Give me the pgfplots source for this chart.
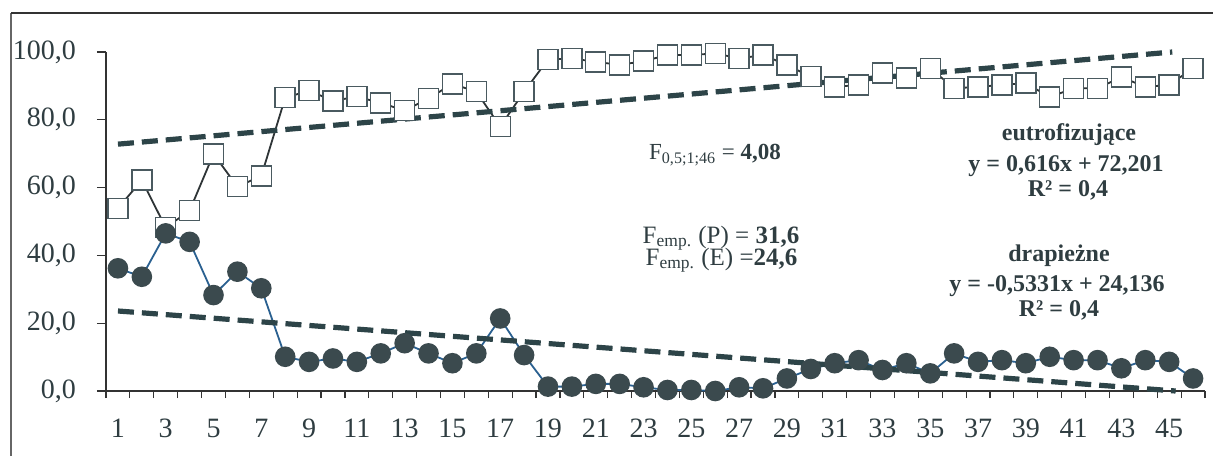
\documentclass[border=0pt]{standalone}
\usepackage{fontspec}
\setmainfont{Liberation Serif}
\usepackage{pgfplots}
\pgfplotsset{compat=1.18}
\definecolor{sqedge}{HTML}{4A5A60}
\definecolor{sqline}{HTML}{2E3436}
\definecolor{circfill}{HTML}{3B4A4E}
\definecolor{circline}{HTML}{2A6090}
\definecolor{trend}{HTML}{2D4448}
\definecolor{txt}{HTML}{2F3D41}
\begin{document}
\begin{tikzpicture}[x=1pt,y=1pt]
\useasboundingbox (0,0) rectangle (606.5,228);
% outer frame (partly visible)
\draw[color=gray!80!black, line width=1.1pt] (5.5,0) -- (5.5,221.5);
\draw[color=black!80, line width=0.6pt] (5.5,221.5) -- (606.5,221.5);
\begin{axis}[
  at={(53pt,32.5pt)}, anchor=south west,
  scale only axis, width=549.5pt, height=169.5pt,
  xmin=0.5, xmax=46.5, ymin=0, ymax=100,
  clip=false,
  axis x line*=bottom, axis y line*=left,
  axis line style={color=black!80, line width=0.7pt},
  xtick={1,3,...,45},
  minor xtick={0.5,1.5,...,46.5},
  major x tick style={draw=none},
  minor tick length=3.5pt,
  major tick length=4.5pt,
  tick align=outside,
  tick style={color=black!80, line width=0.6pt},
  ytick={0,20,...,100},
  /pgf/number format/assume math mode=true,
  yticklabel style={/pgf/number format/.cd, fixed, fixed zerofill, precision=1, use comma, /tikz/.cd, font=\fontsize{14}{16}\selectfont, text=txt, xshift=-7pt},
  xticklabel style={font=\fontsize{14}{16}\selectfont, text=txt, yshift=-6pt},
]
% eutrofizujace (squares)
\addplot[color=sqline, line width=0.9pt, mark=square*, mark size=5pt,
  mark options={fill=white, draw=sqedge, line width=0.7pt}] coordinates {
(1,53.9)(2,62.2)(3,48.2)(4,53.2)(5,69.9)(6,60.3)(7,63.4)(8,86.5)(9,88.6)(10,85.6)
(11,86.8)(12,85.0)(13,82.7)(14,86.3)(15,90.6)(16,88.3)(17,78.0)(18,88.3)(19,97.8)(20,98.1)
(21,97.1)(22,96.2)(23,97.3)(24,99.1)(25,99.1)(26,99.6)(27,98.1)(28,99.1)(29,96.2)(30,92.7)
(31,89.7)(32,90.3)(33,93.8)(34,92.3)(35,95.2)(36,89.3)(37,89.7)(38,90.3)(39,90.8)(40,86.7)
(41,89.3)(42,89.3)(43,92.6)(44,89.7)(45,90.3)(46,95.2)};
% drapiezne (circles)
\addplot[color=circline, line width=0.9pt, mark=*, mark size=4.7pt,
  mark options={fill=circfill, draw=circfill}] coordinates {
(1,36.2)(2,33.7)(3,46.5)(4,44.0)(5,28.3)(6,35.2)(7,30.3)(8,10.1)(9,8.6)(10,9.6)
(11,8.6)(12,11.1)(13,14.1)(14,11.1)(15,8.2)(16,11.1)(17,21.4)(18,10.6)(19,1.3)(20,1.3)
(21,2.1)(22,2.1)(23,1.1)(24,0.3)(25,0.3)(26,0.0)(27,1.1)(28,0.8)(29,3.7)(30,6.5)
(31,8.2)(32,9.1)(33,6.2)(34,8.2)(35,5.2)(36,11.1)(37,8.6)(38,9.1)(39,8.2)(40,10.1)
(41,9.1)(42,9.1)(43,6.7)(44,9.1)(45,8.6)(46,3.7)};
% trend lines
\addplot[color=trend, line width=2.6pt, dash pattern=on 8pt off 4pt] coordinates {(1,72.817)(45.13,100)};
\addplot[color=trend, line width=2.6pt, dash pattern=on 8pt off 4pt] coordinates {(1,23.603)(45.27,0)};
\end{axis}
% annotations
\begin{scope}[every node/.style={text=txt, inner sep=0pt}]
\node[font=\fontsize{11.5}{13}\selectfont] at (357.5,150.5) {F\textsubscript{0,5;1;46} = \textbf{4,08}};
\node[font=\fontsize{12.5}{14}\selectfont] at (360.5,109) {F\textsubscript{emp.} (P) = \textbf{31,6}};
\node[font=\fontsize{12.5}{14}\selectfont] at (360.75,98) {F\textsubscript{emp.} (E) =\textbf{24,6}};
\node[font=\fontsize{12}{14}\selectfont\bfseries] at (534.5,160.5) {eutrofizujące};
\node[font=\fontsize{12}{14}\selectfont\bfseries] at (533,145) {y = 0,616x + 72,201};
\node[font=\fontsize{12}{14}\selectfont\bfseries] at (534,133) {R² = 0,4};
\node[font=\fontsize{12}{14}\selectfont\bfseries] at (529.5,100) {drapieżne};
\node[font=\fontsize{12}{14}\selectfont\bfseries] at (528.5,85) {y = -0,5331x + 24,136};
\node[font=\fontsize{12}{14}\selectfont\bfseries] at (529.5,73) {R² = 0,4};
\end{scope}
\end{tikzpicture}
\end{document}
